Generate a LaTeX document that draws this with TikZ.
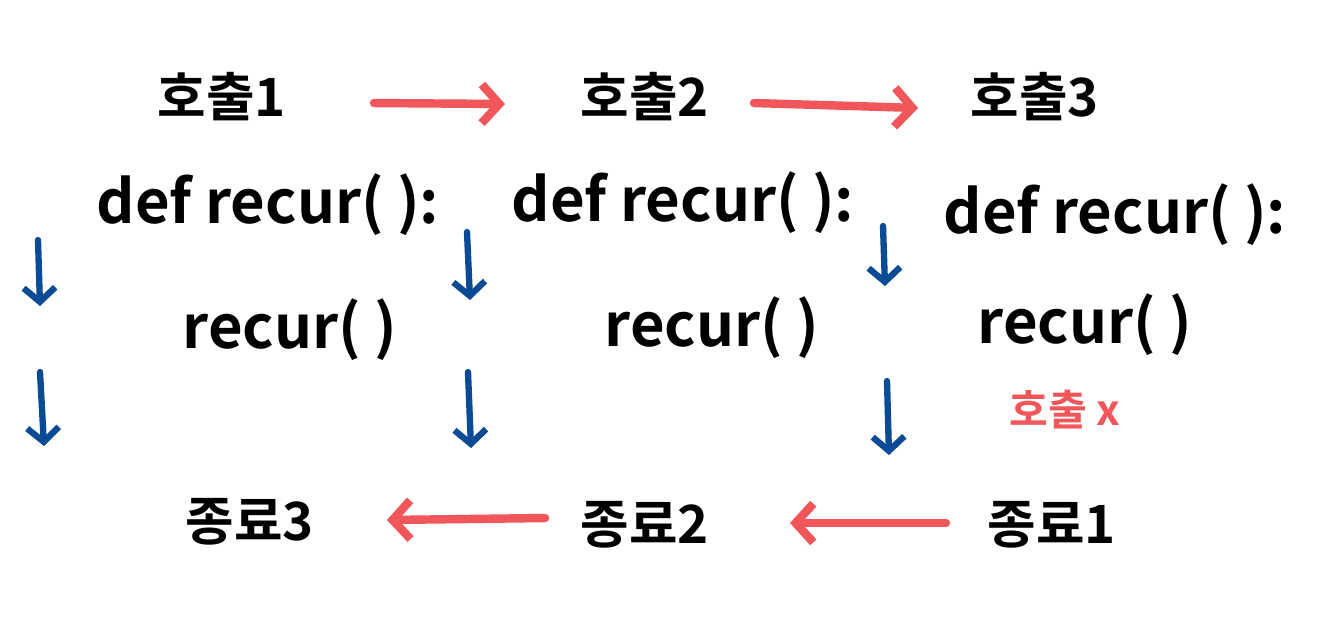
\documentclass[tikz,border=0pt]{standalone}
\usepackage{fontspec}
\newfontfamily\kr{Noto Sans CJK KR Bold}
\usetikzlibrary{arrows.meta}
\definecolor{hred}{HTML}{F0565A}
\definecolor{hblue}{HTML}{0B4A94}
\tikzset{
  lbl/.style={font=\kr\fontsize{17}{20}\selectfont, inner sep=0pt, text=black},
  klbl/.style={font=\kr\fontsize{15}{18}\selectfont, inner sep=0pt, text=black},
  redlbl/.style={font=\kr\fontsize{12}{14}\selectfont, inner sep=0pt, text=hred},
  redarr/.style={draw=hred, line width=2.4pt, line cap=round, -{Straight Barb[length=5pt,width=11pt,line width=2.4pt]}},
  bluearr/.style={draw=hblue, line width=1.8pt, line cap=round, -{Straight Barb[length=4pt,width=9pt,line width=1.8pt]}}
}
\begin{document}
\begin{tikzpicture}[x=0.01cm,y=-0.01cm]
\useasboundingbox[fill=white] (0,0) rectangle (1321,617);
% top calls
\node[klbl] (c1) at (222,97) {호출1};
\node[klbl] (c2) at (645,97) {호출2};
\node[klbl] (c3) at (1035,97) {호출3};
% def lines
\node[lbl] (d1) at (268,205) {def recur( ):};
\node[lbl] (d2) at (683,203) {def recur( ):};
\node[lbl] (d3) at (1115,215) {def recur( ):};
% recur calls
\node[lbl] (r1) at (290,330) {recur( )};
\node[lbl] (r2) at (712,328) {recur( )};
\node[lbl] (r3) at (1085,325) {recur( )};
\node[redlbl] (cx) at (1065,410) {호출 x};
% ends
\node[klbl] (e3) at (250,522) {종료3};
\node[klbl] (e2) at (645,525) {종료2};
\node[klbl] (e1) at (1052,525) {종료1};
% red arrows
\coordinate (a1s) at (374,103); \coordinate (a1e) at (505,104);
\coordinate (a2s) at (754,103); \coordinate (a2e) at (918,108);
\coordinate (b1s) at (545,518); \coordinate (b1e) at (387,520);
\coordinate (b2s) at (946,523); \coordinate (b2e) at (790,523);
\draw[redarr] (a1s) -- (a1e);
\draw[redarr] (a2s) -- (a2e);
\draw[redarr] (b1s) -- (b1e);
\draw[redarr] (b2s) -- (b2e);
% blue arrows
\coordinate (u1s) at (38,240); \coordinate (u1e) at (40,306);
\coordinate (u2s) at (40,372); \coordinate (u2e) at (44,446);
\coordinate (v1s) at (467,232); \coordinate (v1e) at (470,300);
\coordinate (v2s) at (468,372); \coordinate (v2e) at (471,448);
\coordinate (w1s) at (883,226); \coordinate (w1e) at (885,286);
\coordinate (w2s) at (887,381); \coordinate (w2e) at (889,455);
\foreach \s/\e in {u1s/u1e,u2s/u2e,v1s/v1e,v2s/v2e,w1s/w1e,w2s/w2e}
  \draw[bluearr] (\s) -- (\e);
\end{tikzpicture}
\end{document}
